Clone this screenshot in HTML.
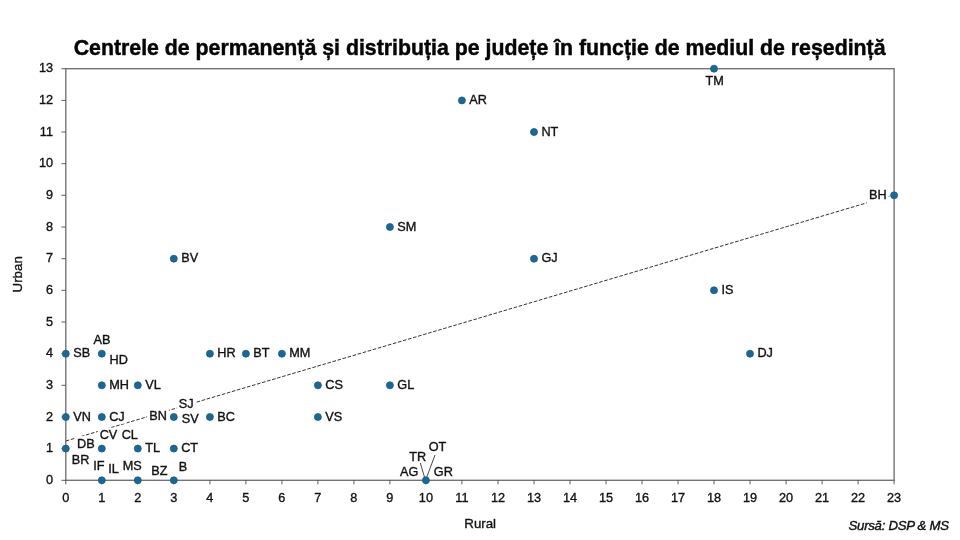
<!DOCTYPE html>
<html lang="ro"><head><meta charset="utf-8"><title>Centrele de permanență</title>
<style>
html,body{margin:0;padding:0;background:#fff;}
body{width:960px;height:540px;overflow:hidden;}
svg{display:block;font-family:"Liberation Sans",sans-serif;}
.t{font-size:12.7px;fill:#111;stroke:#111;stroke-width:0.35px;}
.lb{font-size:12.7px;fill:#111;stroke:#111;stroke-width:0.35px;}
</style></head><body>
<svg width="960" height="540" viewBox="0 0 960 540">
<rect width="960" height="540" fill="#fff"/>
<text x="479.6" y="54.8" text-anchor="middle" font-size="21.3" font-weight="bold" fill="#050505" stroke="#050505" stroke-width="0.45">Centrele de permanență și distribuția pe județe în funcție de mediul de reședință</text>
<rect x="65.8" y="68.7" width="828.3" height="411.6" fill="none" stroke="#707070" stroke-width="1.35"/>
<path d="M65.8 480.3v4 M101.8 480.3v4 M137.8 480.3v4 M173.8 480.3v4 M209.9 480.3v4 M245.9 480.3v4 M281.9 480.3v4 M317.9 480.3v4 M353.9 480.3v4 M389.9 480.3v4 M425.9 480.3v4 M461.9 480.3v4 M498.0 480.3v4 M534.0 480.3v4 M570.0 480.3v4 M606.0 480.3v4 M642.0 480.3v4 M678.0 480.3v4 M714.0 480.3v4 M750.0 480.3v4 M786.1 480.3v4 M822.1 480.3v4 M858.1 480.3v4 M894.1 480.3v4 M65.8 480.3h-4.3 M65.8 448.6h-4.3 M65.8 417.0h-4.3 M65.8 385.3h-4.3 M65.8 353.7h-4.3 M65.8 322.0h-4.3 M65.8 290.3h-4.3 M65.8 258.7h-4.3 M65.8 227.0h-4.3 M65.8 195.3h-4.3 M65.8 163.7h-4.3 M65.8 132.0h-4.3 M65.8 100.4h-4.3 M65.8 68.7h-4.3" stroke="#4a4a4a" stroke-width="0.9" fill="none"/>
<text class="t" x="65.8" y="502" text-anchor="middle">0</text>
<text class="t" x="101.8" y="502" text-anchor="middle">1</text>
<text class="t" x="137.8" y="502" text-anchor="middle">2</text>
<text class="t" x="173.8" y="502" text-anchor="middle">3</text>
<text class="t" x="209.9" y="502" text-anchor="middle">4</text>
<text class="t" x="245.9" y="502" text-anchor="middle">5</text>
<text class="t" x="281.9" y="502" text-anchor="middle">6</text>
<text class="t" x="317.9" y="502" text-anchor="middle">7</text>
<text class="t" x="353.9" y="502" text-anchor="middle">8</text>
<text class="t" x="389.9" y="502" text-anchor="middle">9</text>
<text class="t" x="425.9" y="502" text-anchor="middle">10</text>
<text class="t" x="461.9" y="502" text-anchor="middle">11</text>
<text class="t" x="498.0" y="502" text-anchor="middle">12</text>
<text class="t" x="534.0" y="502" text-anchor="middle">13</text>
<text class="t" x="570.0" y="502" text-anchor="middle">14</text>
<text class="t" x="606.0" y="502" text-anchor="middle">15</text>
<text class="t" x="642.0" y="502" text-anchor="middle">16</text>
<text class="t" x="678.0" y="502" text-anchor="middle">17</text>
<text class="t" x="714.0" y="502" text-anchor="middle">18</text>
<text class="t" x="750.0" y="502" text-anchor="middle">19</text>
<text class="t" x="786.1" y="502" text-anchor="middle">20</text>
<text class="t" x="822.1" y="502" text-anchor="middle">21</text>
<text class="t" x="858.1" y="502" text-anchor="middle">22</text>
<text class="t" x="894.1" y="502" text-anchor="middle">23</text>
<text class="t" x="53" y="484.0" text-anchor="end">0</text>
<text class="t" x="53" y="452.3" text-anchor="end">1</text>
<text class="t" x="53" y="420.7" text-anchor="end">2</text>
<text class="t" x="53" y="389.0" text-anchor="end">3</text>
<text class="t" x="53" y="357.4" text-anchor="end">4</text>
<text class="t" x="53" y="325.7" text-anchor="end">5</text>
<text class="t" x="53" y="294.0" text-anchor="end">6</text>
<text class="t" x="53" y="262.4" text-anchor="end">7</text>
<text class="t" x="53" y="230.7" text-anchor="end">8</text>
<text class="t" x="53" y="199.0" text-anchor="end">9</text>
<text class="t" x="53" y="167.4" text-anchor="end">10</text>
<text class="t" x="53" y="135.7" text-anchor="end">11</text>
<text class="t" x="53" y="104.1" text-anchor="end">12</text>
<text class="t" x="53" y="72.4" text-anchor="end">13</text>
<text x="480.2" y="528.3" text-anchor="middle" class="t" style="font-size:13.3px">Rural</text>
<text transform="translate(22,274.3) rotate(-90)" text-anchor="middle" class="t" style="font-size:13.3px">Urban</text>
<text x="848.6" y="530.2" font-size="13.2" font-style="italic" fill="#111" stroke="#111" stroke-width="0.4" textLength="100.4">Sursă: DSP &amp; MS</text>
<line x1="65.8" y1="441.0" x2="894.1" y2="194.7" stroke="#333" stroke-width="1" stroke-dasharray="3.6 1.65"/>
<rect x="467.3" y="92.5" width="21.6" height="14.5" fill="#fff"/>
<rect x="539.4" y="124.1" width="20.9" height="14.5" fill="#fff"/>
<rect x="395.3" y="219.1" width="23.0" height="14.5" fill="#fff"/>
<rect x="179.2" y="250.8" width="20.9" height="14.5" fill="#fff"/>
<rect x="539.4" y="250.8" width="20.2" height="14.5" fill="#fff"/>
<rect x="719.4" y="282.4" width="16.0" height="14.5" fill="#fff"/>
<rect x="755.4" y="345.8" width="19.5" height="14.5" fill="#fff"/>
<rect x="71.2" y="345.8" width="20.9" height="14.5" fill="#fff"/>
<rect x="215.3" y="345.8" width="22.3" height="14.5" fill="#fff"/>
<rect x="251.3" y="345.8" width="20.2" height="14.5" fill="#fff"/>
<rect x="287.3" y="345.8" width="25.2" height="14.5" fill="#fff"/>
<rect x="107.2" y="377.4" width="23.7" height="14.5" fill="#fff"/>
<rect x="143.2" y="377.4" width="19.5" height="14.5" fill="#fff"/>
<rect x="323.3" y="377.4" width="21.6" height="14.5" fill="#fff"/>
<rect x="395.3" y="377.4" width="20.9" height="14.5" fill="#fff"/>
<rect x="71.2" y="409.1" width="21.6" height="14.5" fill="#fff"/>
<rect x="107.2" y="409.1" width="19.5" height="14.5" fill="#fff"/>
<rect x="215.3" y="409.1" width="21.6" height="14.5" fill="#fff"/>
<rect x="323.3" y="409.1" width="20.9" height="14.5" fill="#fff"/>
<rect x="143.2" y="440.7" width="18.8" height="14.5" fill="#fff"/>
<rect x="179.2" y="440.7" width="20.9" height="14.5" fill="#fff"/>
<rect x="91.5" y="332.0" width="20.9" height="14.5" fill="#fff"/>
<rect x="107.5" y="352.0" width="22.3" height="14.5" fill="#fff"/>
<rect x="147.2" y="408.8" width="21.6" height="14.5" fill="#fff"/>
<rect x="176.7" y="396.5" width="18.8" height="14.5" fill="#fff"/>
<rect x="179.7" y="411.5" width="20.9" height="14.5" fill="#fff"/>
<rect x="97.7" y="427.7" width="21.6" height="14.5" fill="#fff"/>
<rect x="119.7" y="427.7" width="20.2" height="14.5" fill="#fff"/>
<rect x="75.0" y="436.0" width="21.6" height="14.5" fill="#fff"/>
<rect x="69.7" y="452.2" width="21.6" height="14.5" fill="#fff"/>
<rect x="91.3" y="458.5" width="15.3" height="14.5" fill="#fff"/>
<rect x="106.3" y="461.0" width="14.6" height="14.5" fill="#fff"/>
<rect x="120.8" y="458.5" width="23.0" height="14.5" fill="#fff"/>
<rect x="149.3" y="463.5" width="20.2" height="14.5" fill="#fff"/>
<rect x="176.7" y="459.3" width="12.5" height="14.5" fill="#fff"/>
<rect x="426.7" y="439.3" width="21.6" height="14.5" fill="#fff"/>
<rect x="407.2" y="449.0" width="20.9" height="14.5" fill="#fff"/>
<rect x="398.0" y="464.0" width="22.4" height="14.5" fill="#fff"/>
<rect x="431.8" y="464.0" width="23.0" height="14.5" fill="#fff"/>
<rect x="703.5" y="73.2" width="22.3" height="14.5" fill="#fff"/>
<rect x="867.0" y="187.1" width="21.6" height="14.5" fill="#fff"/>
<rect x="866.8" y="187" width="21" height="18" fill="#fff"/>
<path d="M420.3 463L424.9 478.5M435 455L426.6 477.5" stroke="#333" stroke-width="0.9" fill="none"/>
<circle cx="65.8" cy="448.6" r="3.5" fill="#1c6892" stroke="#195c81" stroke-width="0.8"/>
<circle cx="65.8" cy="417.0" r="3.5" fill="#1c6892" stroke="#195c81" stroke-width="0.8"/>
<circle cx="65.8" cy="353.7" r="3.5" fill="#1c6892" stroke="#195c81" stroke-width="0.8"/>
<circle cx="101.8" cy="480.3" r="3.5" fill="#1c6892" stroke="#195c81" stroke-width="0.8"/>
<circle cx="101.8" cy="448.6" r="3.5" fill="#1c6892" stroke="#195c81" stroke-width="0.8"/>
<circle cx="101.8" cy="417.0" r="3.5" fill="#1c6892" stroke="#195c81" stroke-width="0.8"/>
<circle cx="101.8" cy="385.3" r="3.5" fill="#1c6892" stroke="#195c81" stroke-width="0.8"/>
<circle cx="101.8" cy="353.7" r="3.5" fill="#1c6892" stroke="#195c81" stroke-width="0.8"/>
<circle cx="137.8" cy="480.3" r="3.5" fill="#1c6892" stroke="#195c81" stroke-width="0.8"/>
<circle cx="137.8" cy="448.6" r="3.5" fill="#1c6892" stroke="#195c81" stroke-width="0.8"/>
<circle cx="137.8" cy="385.3" r="3.5" fill="#1c6892" stroke="#195c81" stroke-width="0.8"/>
<circle cx="173.8" cy="480.3" r="3.5" fill="#1c6892" stroke="#195c81" stroke-width="0.8"/>
<circle cx="173.8" cy="448.6" r="3.5" fill="#1c6892" stroke="#195c81" stroke-width="0.8"/>
<circle cx="173.8" cy="417.0" r="3.5" fill="#1c6892" stroke="#195c81" stroke-width="0.8"/>
<circle cx="173.8" cy="258.7" r="3.5" fill="#1c6892" stroke="#195c81" stroke-width="0.8"/>
<circle cx="209.9" cy="417.0" r="3.5" fill="#1c6892" stroke="#195c81" stroke-width="0.8"/>
<circle cx="209.9" cy="353.7" r="3.5" fill="#1c6892" stroke="#195c81" stroke-width="0.8"/>
<circle cx="245.9" cy="353.7" r="3.5" fill="#1c6892" stroke="#195c81" stroke-width="0.8"/>
<circle cx="281.9" cy="353.7" r="3.5" fill="#1c6892" stroke="#195c81" stroke-width="0.8"/>
<circle cx="317.9" cy="417.0" r="3.5" fill="#1c6892" stroke="#195c81" stroke-width="0.8"/>
<circle cx="317.9" cy="385.3" r="3.5" fill="#1c6892" stroke="#195c81" stroke-width="0.8"/>
<circle cx="389.9" cy="385.3" r="3.5" fill="#1c6892" stroke="#195c81" stroke-width="0.8"/>
<circle cx="389.9" cy="227.0" r="3.5" fill="#1c6892" stroke="#195c81" stroke-width="0.8"/>
<circle cx="425.9" cy="480.3" r="3.5" fill="#1c6892" stroke="#195c81" stroke-width="0.8"/>
<circle cx="461.9" cy="100.4" r="3.5" fill="#1c6892" stroke="#195c81" stroke-width="0.8"/>
<circle cx="534.0" cy="258.7" r="3.5" fill="#1c6892" stroke="#195c81" stroke-width="0.8"/>
<circle cx="534.0" cy="132.0" r="3.5" fill="#1c6892" stroke="#195c81" stroke-width="0.8"/>
<circle cx="714.0" cy="290.3" r="3.5" fill="#1c6892" stroke="#195c81" stroke-width="0.8"/>
<circle cx="714.0" cy="68.7" r="3.5" fill="#1c6892" stroke="#195c81" stroke-width="0.8"/>
<circle cx="750.0" cy="353.7" r="3.5" fill="#1c6892" stroke="#195c81" stroke-width="0.8"/>
<circle cx="894.1" cy="195.3" r="3.5" fill="#1c6892" stroke="#195c81" stroke-width="0.8"/>
<text class="lb" x="469.3" y="104.0">AR</text>
<text class="lb" x="541.4" y="135.6">NT</text>
<text class="lb" x="397.3" y="230.6">SM</text>
<text class="lb" x="181.2" y="262.3">BV</text>
<text class="lb" x="541.4" y="262.3">GJ</text>
<text class="lb" x="721.4" y="293.9">IS</text>
<text class="lb" x="757.4" y="357.3">DJ</text>
<text class="lb" x="73.2" y="357.3">SB</text>
<text class="lb" x="217.3" y="357.3">HR</text>
<text class="lb" x="253.3" y="357.3">BT</text>
<text class="lb" x="289.3" y="357.3">MM</text>
<text class="lb" x="109.2" y="388.9">MH</text>
<text class="lb" x="145.2" y="388.9">VL</text>
<text class="lb" x="325.3" y="388.9">CS</text>
<text class="lb" x="397.3" y="388.9">GL</text>
<text class="lb" x="73.2" y="420.6">VN</text>
<text class="lb" x="109.2" y="420.6">CJ</text>
<text class="lb" x="217.3" y="420.6">BC</text>
<text class="lb" x="325.3" y="420.6">VS</text>
<text class="lb" x="145.2" y="452.2">TL</text>
<text class="lb" x="181.2" y="452.2">CT</text>
<text class="lb" x="93.5" y="343.5">AB</text>
<text class="lb" x="109.5" y="363.5">HD</text>
<text class="lb" x="149.2" y="420.3">BN</text>
<text class="lb" x="178.7" y="408.0">SJ</text>
<text class="lb" x="181.7" y="423.0">SV</text>
<text class="lb" x="99.7" y="439.2">CV</text>
<text class="lb" x="121.7" y="439.2">CL</text>
<text class="lb" x="77.0" y="447.5">DB</text>
<text class="lb" x="71.7" y="463.7">BR</text>
<text class="lb" x="93.3" y="470.0">IF</text>
<text class="lb" x="108.3" y="472.5">IL</text>
<text class="lb" x="122.8" y="470.0">MS</text>
<text class="lb" x="151.3" y="475.0">BZ</text>
<text class="lb" x="178.7" y="470.8">B</text>
<text class="lb" x="428.7" y="450.8">OT</text>
<text class="lb" x="409.2" y="460.5">TR</text>
<text class="lb" x="400.0" y="475.5">AG</text>
<text class="lb" x="433.8" y="475.5">GR</text>
<text class="lb" x="705.5" y="84.7">TM</text>
<text class="lb" x="869.0" y="198.6">BH</text>
</svg></body></html>
